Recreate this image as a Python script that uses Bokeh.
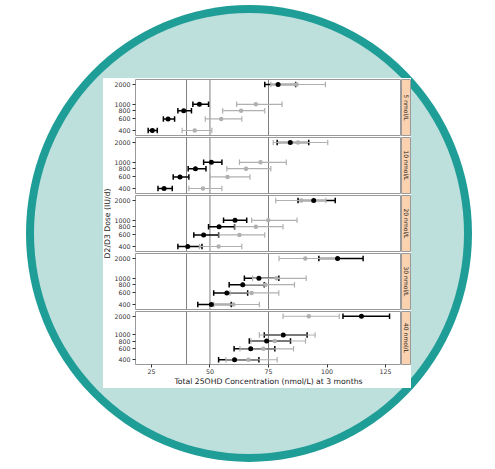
import math
from bokeh.plotting import figure
from bokeh.models import ColumnDataSource, Whisker, TeeHead, Span, FixedTicker, Label, Range1d
from bokeh.layouts import column, row
from bokeh.embed import file_html
from bokeh.resources import INLINE

# ---------------- data ----------------
doses = [400, 600, 800, 1000, 2000]
panel_labels = ["5 nmol/L", "10 nmol/L", "20 nmol/L", "30 nmol/L", "40 nmol/L"]
ref_lines = [40, 50, 75]
x_ticks = [25, 50, 75, 100, 125]

# black series (per panel, doses 400, 600, 800, 1000, 2000)
black_mid = [[25.4, 32.1, 38.8, 45.5, 79.1],
             [30.4, 37.2, 43.8, 50.6, 84.3],
             [40.5, 47.3, 53.9, 60.7, 94.3],
             [50.6, 57.2, 64.0, 70.9, 104.5],
             [60.5, 67.4, 74.2, 81.3, 114.7]]
black_lo = [[23.6, 30.1, 36.3, 42.7, 73.4],
            [27.8, 34.3, 40.7, 47.3, 78.7],
            [36.3, 43.1, 49.4, 55.8, 87.6],
            [44.8, 51.6, 58.2, 64.7, 96.5],
            [53.7, 60.3, 66.8, 73.2, 106.8]]
black_hi = [[27.5, 34.9, 42.1, 49.4, 86.6],
            [33.9, 41.0, 48.3, 55.1, 92.2],
            [46.6, 53.7, 60.5, 65.7, 103.5],
            [59.1, 66.1, 73.2, 79.4, 115.4],
            [70.9, 77.7, 84.4, 91.5, 126.7]]

# gray series
gray_mid = [[43.5, 54.8, 63.3, 69.6, 87.0],
            [47.0, 57.5, 65.4, 71.6, 87.6],
            [53.7, 62.6, 69.6, 74.9, 89.0],
            [60.0, 67.8, 73.7, 78.4, 90.7],
            [66.4, 72.8, 77.7, 81.0, 92.2]]
gray_lo = [[38.1, 48.0, 55.4, 61.4, 76.0],
           [41.0, 50.1, 57.2, 62.6, 77.0],
           [45.5, 53.9, 60.7, 67.8, 78.1],
           [51.6, 58.6, 64.0, 68.2, 79.5],
           [56.8, 62.8, 67.5, 71.1, 81.2]]
gray_hi = [[50.8, 63.6, 73.4, 80.8, 99.3],
           [55.1, 67.1, 76.0, 82.6, 100.3],
           [63.6, 73.4, 81.2, 87.2, 99.5],
           [71.1, 79.4, 86.1, 91.1, 104.3],
           [78.7, 85.7, 90.8, 94.9, 105.2]]

# ---------------- style ----------------
FONT = "DejaVu Sans"
BLACK = "#000000"
GRAY = "#b0b0b0"
BORDER = "#9a9a9a"
REFCOL = "#7f7f7f"
STRIP = "#fad2af"
TEXT = "#333333"

x_range = Range1d(18.2, 131.8)
Y_LO, Y_HI = 335.8, 2382.0


def add_errorbars(p, src, color, width, cap):
    head_kw = dict(size=cap, line_color=color, line_width=width)
    p.add_layout(Whisker(source=src, base="dose", lower="lo", upper="hi",
                         dimension="width", level="underlay",
                         line_color=color, line_width=width,
                         upper_head=TeeHead(**head_kw), lower_head=TeeHead(**head_kw)))


def make_panel(i, bottom):
    h = 78 if bottom else 58
    p = figure(width=290, height=h, x_range=x_range, y_range=Range1d(Y_LO, Y_HI),
               y_axis_type="log", output_backend="svg", toolbar_location=None,
               min_border_left=22, min_border_right=0, min_border_top=1,
               min_border_bottom=21 if bottom else 1)
    p.background_fill_color = "white"
    p.border_fill_color = "white"
    p.outline_line_color = BORDER
    p.outline_line_width = 1
    p.grid.visible = False

    for v in ref_lines:
        p.add_layout(Span(location=v, dimension="height", line_color=REFCOL,
                          line_width=1, level="underlay"))

    bsrc = ColumnDataSource(dict(dose=doses, mid=black_mid[i], lo=black_lo[i], hi=black_hi[i]))
    gsrc = ColumnDataSource(dict(dose=doses, mid=gray_mid[i], lo=gray_lo[i], hi=gray_hi[i]))
    add_errorbars(p, bsrc, BLACK, 1.5, 5.5)
    add_errorbars(p, gsrc, GRAY, 1.2, 5.5)
    p.scatter(x="mid", y="dose", source=gsrc, size=4.5, fill_color=GRAY,
              line_color=None, marker="circle")
    p.scatter(x="mid", y="dose", source=bsrc, size=5, fill_color=BLACK,
              line_color=None, marker="circle")

    ya = p.yaxis[0]
    ya.ticker = FixedTicker(ticks=doses)
    ya.major_label_overrides = {d: str(d) for d in doses}
    ya.axis_line_color = None
    ya.major_tick_in = 0
    ya.major_tick_out = 3
    ya.major_tick_line_color = TEXT
    ya.minor_tick_line_color = None
    ya.major_label_standoff = 2
    ya.major_label_text_font = FONT
    ya.major_label_text_font_size = "6.3px"
    ya.major_label_text_color = TEXT

    xa = p.xaxis[0]
    if bottom:
        xa.ticker = FixedTicker(ticks=x_ticks)
        xa.axis_line_color = None
        xa.major_tick_in = 0
        xa.major_tick_out = 3
        xa.major_tick_line_color = TEXT
        xa.minor_tick_line_color = None
        xa.major_label_standoff = 1
        xa.major_label_text_font = FONT
        xa.major_label_text_font_size = "6.3px"
        xa.major_label_text_color = TEXT
        xa.axis_label = "Total 25OHD Concentration (nmol/L) at 3 months"
        xa.axis_label_text_font = FONT
        xa.axis_label_text_font_size = "7.7px"
        xa.axis_label_text_font_style = "normal"
        xa.axis_label_text_color = "#1a1a1a"
        xa.axis_label_standoff = 0
    else:
        xa.visible = False
    return p


def make_strip(i, bottom):
    h = 78 if bottom else 58
    s = figure(width=10, height=h, x_range=Range1d(0, 1), y_range=Range1d(0, 1),
               output_backend="svg", toolbar_location=None,
               min_border_left=0, min_border_right=0, min_border_top=1,
               min_border_bottom=21 if bottom else 1)
    s.axis.visible = False
    s.grid.visible = False
    s.background_fill_color = STRIP
    s.border_fill_color = "white"
    s.outline_line_color = BORDER
    s.add_layout(Label(x=0.5, y=0.5, text=panel_labels[i], angle=-math.pi / 2,
                       text_align="center", text_baseline="middle",
                       text_font=FONT, text_font_size="6px", text_color="#1a1a1a"))
    return s


rows = []
for i in range(len(panel_labels)):
    bottom = (i == len(panel_labels) - 1)
    rows.append(row(make_panel(i, bottom), make_strip(i, bottom), spacing=0))
panels_col = column(*rows, spacing=0)

total_h = 58 * 4 + 78
ylab = figure(width=8, height=total_h, x_range=Range1d(0, 8), y_range=Range1d(0, total_h),
              output_backend="svg", toolbar_location=None,
              min_border_left=0, min_border_right=0, min_border_top=0, min_border_bottom=0)
ylab.axis.visible = False
ylab.grid.visible = False
ylab.outline_line_color = None
ylab.background_fill_color = "white"
ylab.border_fill_color = "white"
ylab.add_layout(Label(x=3.5, y=total_h - 145, text="D2/D3 Dose (IU/d)", angle=math.pi / 2,
                      text_align="center", text_baseline="middle",
                      text_font=FONT, text_font_size="7.7px", text_color="#1a1a1a"))

content = row(ylab, panels_col, spacing=0)
white = column(content, margin=(65, 0, 0, 69), styles={"background-color": "white"})
inner = column(white, width=430, height=441, margin=(8, 8, 8, 8),
               styles={"background-color": "#bde0dc", "border-radius": "50%"})
outer = column(inner, width=446, height=457, margin=(5, 0, 0, 26),
               styles={"background-color": "#1f9d97", "border-radius": "50%"})

open("out.html", "w").write(file_html(outer, INLINE))
